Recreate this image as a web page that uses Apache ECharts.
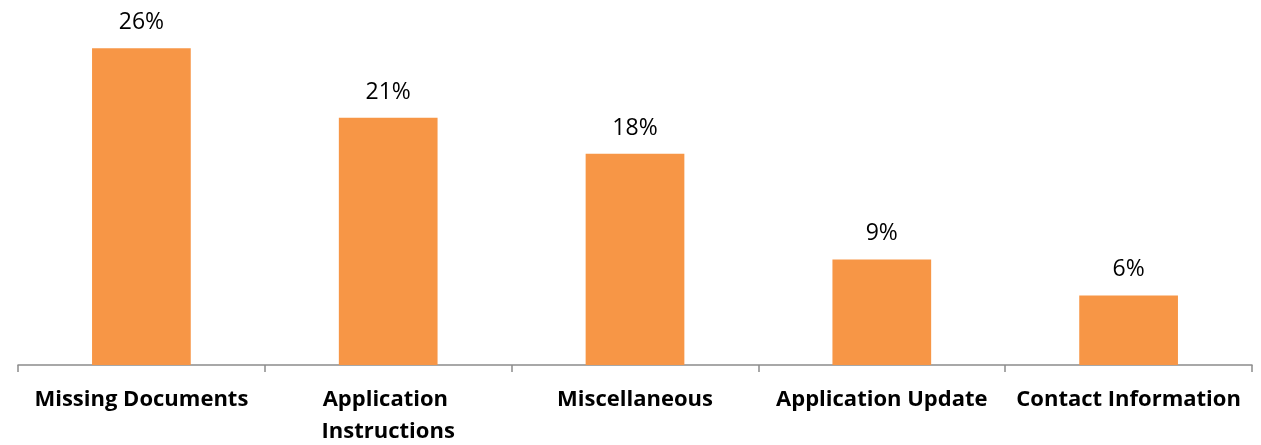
<!DOCTYPE html>
<html>
<head>
<meta charset="utf-8">
<script src="https://cdn.jsdelivr.net/npm/echarts@6/dist/echarts.min.js"></script>
<style>
  html, body { margin: 0; padding: 0; background: #fff; }
  #chart { width: 1261px; height: 445px; }
</style>
</head>
<body>
<div id="chart"></div>
<script>
// categories and share of contacts (percent)
var categories = ['Missing Documents', 'Application Instructions', 'Miscellaneous', 'Application Update', 'Contact Information'];
var shares = [26.4, 20.6, 17.6, 8.8, 5.8];

var chart = echarts.init(document.getElementById('chart'));
chart.setOption({
    animation: false,
    grid: { left: 18, right: 9, top: 5, bottom: 80, outerBoundsMode: 'none' },
    xAxis: {
        type: 'category',
        data: categories,
        axisLine: { lineStyle: { color: '#8c8c8c', width: 1.5 } },
        axisTick: { show: true, length: 7, lineStyle: { color: '#8c8c8c', width: 1.5 } },
        axisLabel: {
            interval: 0,
            margin: 19,
            color: '#000',
            fontFamily: 'Open Sans',
            fontWeight: 'bold',
            fontSize: 22,
            lineHeight: 32,
            width: 244,
            overflow: 'break'
        }
    },
    yAxis: {
        type: 'value',
        min: 0,
        max: 30,
        show: false,
        splitLine: { show: false }
    },
    series: [{
        type: 'bar',
        data: shares,
        barWidth: '40%',
        itemStyle: { color: '#F79646' },
        label: {
            show: true,
            position: 'top',
            distance: 14,
            color: '#000',
            fontFamily: 'Open Sans',
            fontSize: 23,
            formatter: function (p) { return Math.round(p.value) + '%'; }
        }
    }]
});
</script>
</body>
</html>
